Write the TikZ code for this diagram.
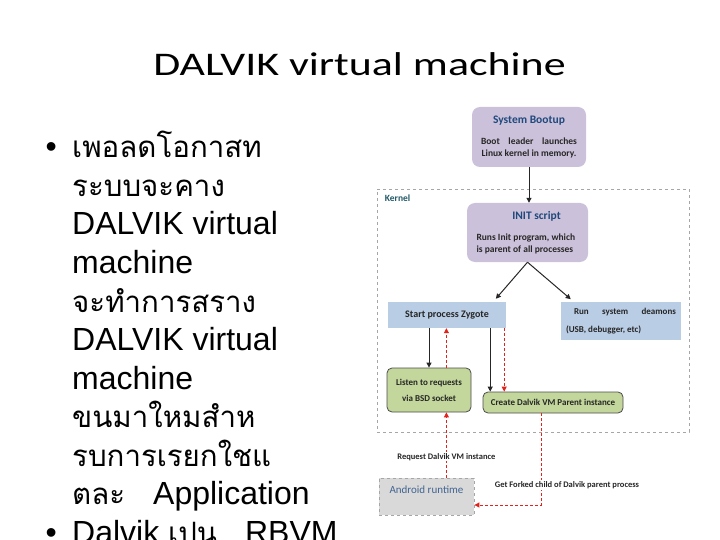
\documentclass[tikz,border=0pt]{standalone}
\usepackage{fontspec}
\setmainfont{Liberation Sans}
\newfontfamily\thaifont[Script=Thai, Scale=0.92]{Loma}
\newfontfamily\slidetitle[FakeStretch=1.33]{Carlito}
\newfontfamily\diafont{Carlito}
\usetikzlibrary{
  arrows.meta,
  positioning,
  calc
}
\definecolor{dvLav}{HTML}{CCC1DA}
\definecolor{dvBlue}{HTML}{B9CDE5}
\definecolor{dvGreen}{HTML}{C3D69B}
\definecolor{dvGrey}{HTML}{D9D9D9}
\definecolor{dvNavy}{HTML}{1F497D}
\definecolor{dvTeal}{HTML}{215967}
\definecolor{dvRed}{HTML}{E3231B}
\definecolor{dvZone}{HTML}{A6A6A6}
\tikzset{
  dvnode/.style={
    inner sep=0pt, align=center, text=black!85,
    font=\diafont\bfseries\fontsize{9}{11}\selectfont
  },
  bootbox/.style={dvnode, fill=dvLav, rounded corners=8pt, font=\diafont\bfseries\fontsize{9.5}{12}\selectfont},
  procbox/.style={dvnode, fill=dvBlue},
  greenbox/.style={dvnode, fill=dvGreen, draw=black!70, line width=0.8pt, rounded corners=5pt},
  runtimebox/.style={dvnode, fill=dvGrey, draw=dvZone, dashed, line width=0.8pt,
    font=\diafont\fontsize{11}{13}\selectfont, text=dvNavy!85},
  zone/.style={draw=dvZone, dashed, line width=0.7pt},
  flow/.style={-{Triangle[length=5pt, width=5pt]}, line width=1pt, black!85},
  reqflow/.style={-{Triangle[length=5pt, width=5pt]}, line width=0.9pt, dvRed, dash pattern=on 3pt off 2pt},
  tag/.style={font=\diafont\bfseries\fontsize{8.5}{10}\selectfont, fill=white, inner sep=1pt, text=black!85},
  bullettext/.style={anchor=base west, inner sep=0pt, font=\fontsize{32}{38}\selectfont}
}
\newcommand{\bxtitle}[1]{{\fontsize{11.5}{12}\selectfont\textcolor{dvNavy}{#1}}}

\begin{document}
\begin{tikzpicture}[x=1pt, y=-1pt]
  \useasboundingbox (0,0) rectangle (720,540);
  \node[anchor=base, font=\slidetitle\fontsize{33}{40}\selectfont] (title) at (359.5,76) {DALVIK virtual machine};

  % bullet text
  \node[bullettext, anchor=base east] (dotA) at (57,158) {•};
  \foreach \ln [count=\i] in {{\thaifont เพอลดโอกาสท}, {\thaifont ระบบจะคาง}, DALVIK virtual, machine,
      {\thaifont จะทำการสราง}, DALVIK virtual, machine, {\thaifont ขนมาใหมสำห},
      {\thaifont รบการเรยกใชแ}, {{\thaifont ตละ}\hspace*{28pt}Application}}
    \node[bullettext] (line\i) at (72,{158+38.5*(\i-1)}) {\ln};
  \node[bullettext, anchor=base east] (dotB) at (57,543.5) {•};
  \node[bullettext] (lineB) at (72,543.5) {Dalvik {\thaifont เปน}\hspace*{28pt}RBVM};

  % kernel zone
  \node[zone, minimum width=312, minimum height=243] (kernel) at (533,310.5) {};
  \node[anchor=west, inner sep=0pt, font=\diafont\bfseries\fontsize{9.5}{11}\selectfont, text=dvTeal]
    (kernellbl) at ([xshift=8pt, yshift=-10pt]kernel.north west) {Kernel};

  \node[bootbox, minimum width=114, minimum height=60] (boot) at (529,137)
    {\bxtitle{System Bootup}\\[9pt]\makebox[96pt][s]{Boot leader launches}\\Linux kernel in memory.};
  \node[bootbox, minimum width=121, minimum height=59] (init) at (527.5,232.5)
    {\makebox[102pt]{\hspace{18pt}\bxtitle{INIT script}}\\[9pt]\makebox[102pt][l]{Runs Init program, which}\\\makebox[102pt][l]{is parent of all processes}};
  \node[procbox, minimum width=118, minimum height=26, font=\diafont\bfseries\fontsize{10}{12}\selectfont] (zygote) at (447,315) {Start process Zygote};
  \node[procbox, minimum width=120, minimum height=38, font=\diafont\bfseries\fontsize{9}{18}\selectfont] (daemons) at (621,321)
    {\makebox[110pt][l]{\hspace{8pt}\makebox[102pt][s]{Run system deamons}}\\\makebox[110pt][l]{(USB, debugger, etc)}};
  \node[greenbox, minimum width=84, minimum height=44, font=\diafont\bfseries\fontsize{9}{16}\selectfont] (listen) at (429,390)
    {Listen to requests\\via BSD socket};
  \node[greenbox, minimum width=140, minimum height=21] (create) at (553,402.5) {Create Dalvik VM Parent instance};
  \node[runtimebox, minimum width=95, minimum height=37] (android) at (426.5,496.5) {\raisebox{3.5pt}[0pt][0pt]{Android runtime}};

  % connectors
  \draw[flow] (boot.south) -- (boot.south |- init.north);
  \draw[flow, shorten >=4pt] (init.south) -- ([xshift=-13pt]zygote.north east);
  \draw[flow, shorten >=4pt] (init.south) -- ([xshift=13pt]daemons.north west);
  \draw[flow] (listen.north |- zygote.south) -- (listen.north);
  \coordinate (reqtop) at ([xshift=-25pt]listen.north east);
  \draw[reqflow] (reqtop) -- (reqtop |- zygote.south);
  \coordinate (forkin) at ([xshift=-16pt]zygote.south east);
  \draw[flow] (forkin) -- (forkin |- create.north);
  \coordinate (forkred) at ([xshift=-2pt]zygote.south east);
  \draw[reqflow] (forkred) -- (forkred |- create.north);
  \draw[reqflow] (android.north -| reqtop) -- node[tag, pos=0.32]{Request Dalvik VM instance} (reqtop |- listen.south);
  \coordinate (forkout) at ([xshift=-12pt]create.south);
  \coordinate (rtin) at ([yshift=-8.5pt]android.east);
  \draw[reqflow] (forkout) -- node[tag, pos=0.78, xshift=26pt]{Get Forked child of Dalvik parent process} (forkout |- rtin) -- (rtin);
\end{tikzpicture}
\end{document}
